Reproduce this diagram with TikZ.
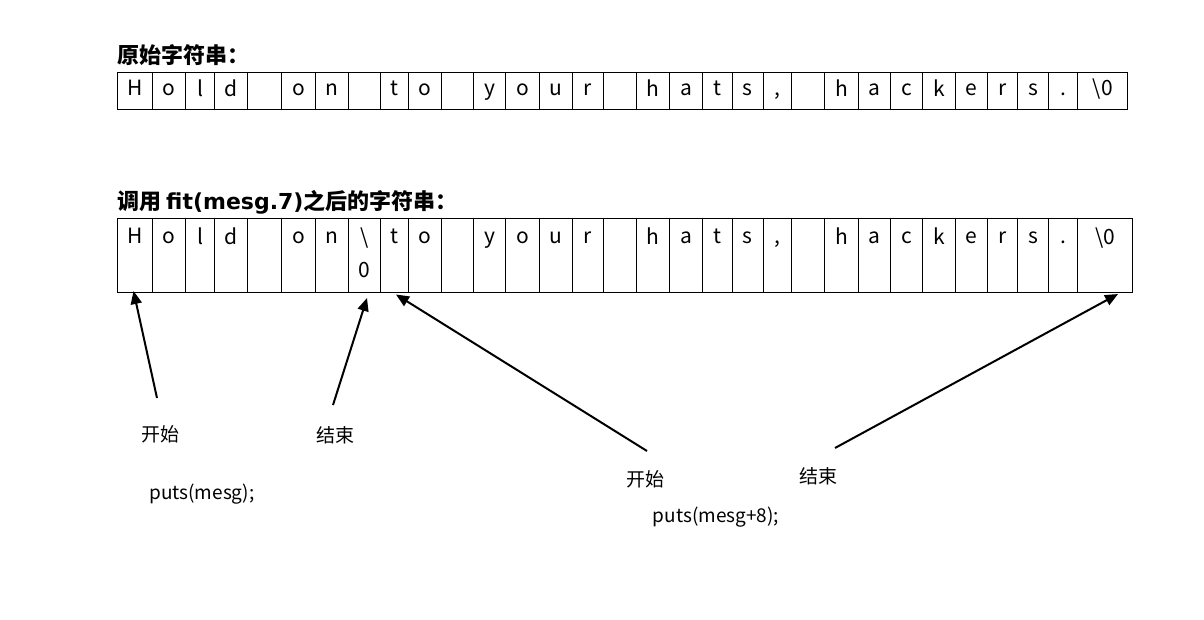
\documentclass[tikz,border=0pt]{standalone}
\usepackage{fontspec}
\setmainfont{Noto Sans CJK SC}
\newfontfamily\latinwide{DejaVu Sans}
\usetikzlibrary{arrows.meta,calc}
\tikzset{
  cell/.style={draw, line width=1pt, rectangle, inner sep=0pt, outer sep=0pt},
  celltext/.style={font=\fontsize{21}{21}\selectfont, inner sep=0pt},
  title/.style={font=\fontsize{22}{22}\selectfont\bfseries, anchor=west, inner sep=0pt},
  lbl/.style={font=\fontsize{19}{19}\selectfont, inner sep=0pt},
  ptr/.style={line width=2pt, -{Triangle[length=13pt,width=11pt]}}
}
\begin{document}
\begin{tikzpicture}[x=1pt,y=-1pt]
\useasboundingbox[fill=white] (0,0) rectangle (1204,619);
% titles
\node[title] (title1) at (117,55) {原始字符串：};
\node[title] (title2) at (117,202) {调用 {\latinwide\bfseries fit(mesg.7)}之后的字符串：};
% top row
\foreach \l/\r/\t [count=\i] in {117.3/152.3/{H},152.3/185.7/{o},185.7/214.7/{l},214.7/247.7/{d},247.7/281.7/{},281.7/315.7/{o},315.7/348.7/{n},348.7/380.7/{},380.7/408.7/{t},408.7/441.7/{o},441.7/473.3/{},473.3/505.7/{y},505.7/539.3/{o},539.3/572.7/{u},572.7/603.3/{r},603.3/636.7/{},636.7/669.3/{h},669.3/702.7/{a},702.7/732.3/{t},732.3/763.3/{s},763.3/791.7/{,},791.7/824.7/{},824.7/858.7/{h},858.7/890.7/{a},890.7/922.7/{c},922.7/955/{k},955/987.7/{e},987.7/1017.7/{r},1017.7/1048.7/{s},1048.7/1077.7/{.},1077.7/1127.7/{\textbackslash 0}} {
  \node[cell, minimum width={(\r-\l)*1pt}, minimum height=37pt] (t\i) at ({(\l+\r)/2},90.8) {};
  \node[celltext] (tt\i) at (t\i.center) {\t\strut};
}
% bottom row
\foreach \l/\r/\t [count=\i] in {117.3/152.3/{H},152.3/185.7/{o},185.7/214.7/{l},214.7/247.7/{d},247.7/281.7/{},281.7/315.7/{o},315.7/348.7/{n},348.7/380.7/{\textbackslash},380.7/408.7/{t},408.7/441.7/{o},441.7/473.3/{},473.3/505.7/{y},505.7/539.3/{o},539.3/572.7/{u},572.7/603.3/{r},603.3/636.7/{},636.7/669.3/{h},669.3/702.7/{a},702.7/732.3/{t},732.3/763.3/{s},763.3/791.7/{,},791.7/824.7/{},824.7/858.7/{h},858.7/890.7/{a},890.7/922.7/{c},922.7/955/{k},955/987.7/{e},987.7/1017.7/{r},1017.7/1048.7/{s},1048.7/1077.7/{.},1077.7/1132.3/{\textbackslash 0}} {
  \node[cell, minimum width={(\r-\l)*1pt}, minimum height=74pt] (b\i) at ({(\l+\r)/2},255.3) {};
  \node[celltext] (bt\i) at ({(\l+\r)/2},239) {\t\strut};
}
\node[celltext] (bzero) at ($(b8.south)+(0,-19)$) {0\strut};
% labels
\node[lbl] (start1) at (160,434) {开始};
\node[lbl] (end1) at (335,435) {结束};
\node[lbl] (puts1) at (202,494) {puts(mesg);};
\node[lbl] (start2) at (645,479) {开始};
\node[lbl] (end2) at (818,476) {结束};
\node[lbl] (puts2) at (716,517) {puts(mesg+8);};
% arrow ends
\coordinate (a1s) at (157,398);
\coordinate (a1e) at (133.5,291);
\coordinate (a2s) at (333,405);
\coordinate (a2e) at (367,298);
\coordinate (a3s) at (647,451);
\coordinate (a3e) at (396,294.5);
\coordinate (a4s) at (835,448);
\coordinate (a4e) at (1118,294);
\draw[ptr] (a1s) -- (a1e);
\draw[ptr] (a2s) -- (a2e);
\draw[ptr] (a3s) -- (a3e);
\draw[ptr] (a4s) -- (a4e);
\end{tikzpicture}
\end{document}
